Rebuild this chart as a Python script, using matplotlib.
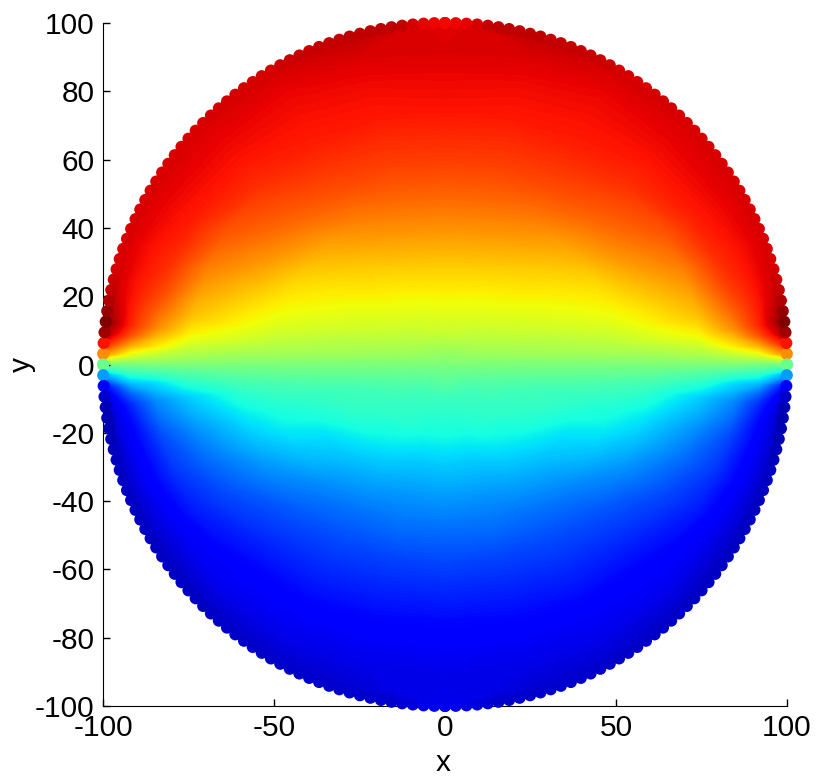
import numpy as np
import matplotlib

matplotlib.use("Agg")
import matplotlib.pyplot as plt

# Values: colour value (0-1 on the jet scale) per ring and ray
ring_radius = [0, 10, 20, 30, 40, 50, 60, 75, 85, 92, 100]
ray_angle = [0, 1.8, 3.6, 5.4, 7.2, 10.8, 14.4, 21.6, 30, 45, 60, 75, 90]

upper_values = [
	[.50, .50, .50, .50, .50, .50, .50, .50, .50, .50, .50, .50, .50],
	[.50, .505, .505, .51, .515, .525, .53, .545, .555, .57, .585, .595, .595],
	[.50, .505, .515, .525, .535, .545, .555, .575, .595, .62, .635, .645, .65],
	[.50, .51, .525, .54, .55, .56, .575, .605, .625, .66, .68, .695, .70],
	[.50, .515, .535, .55, .56, .58, .60, .63, .655, .695, .73, .75, .755],
	[.50, .525, .545, .56, .575, .60, .625, .655, .685, .74, .78, .80, .805],
	[.50, .53, .555, .58, .605, .64, .66, .70, .745, .80, .83, .84, .845],
	[.50, .55, .585, .625, .655, .70, .725, .77, .815, .86, .88, .885, .89],
	[.50, .58, .66, .71, .76, .80, .83, .86, .88, .89, .895, .90, .905],
	[.49, .62, .73, .82, .86, .87, .88, .89, .90, .905, .905, .915, .92],
	[.48, .76, .89, .97, 1.0, .955, .93, .92, .92, .92, .925, .94, .91],
]
lower_values = [
	[.50, .50, .50, .50, .50, .50, .50, .50, .50, .50, .50, .50, .50],
	[.50, .495, .495, .49, .49, .48, .475, .465, .45, .43, .425, .42, .42],
	[.50, .495, .485, .48, .475, .46, .45, .43, .42, .405, .395, .38, .38],
	[.50, .49, .48, .47, .46, .44, .425, .415, .40, .365, .34, .32, .32],
	[.50, .485, .475, .46, .445, .425, .41, .385, .35, .31, .285, .27, .27],
	[.50, .48, .465, .445, .43, .41, .39, .36, .32, .26, .235, .23, .225],
	[.50, .475, .45, .43, .41, .38, .355, .315, .27, .215, .195, .185, .185],
	[.50, .45, .41, .37, .33, .30, .27, .23, .195, .155, .145, .135, .13],
	[.50, .42, .34, .30, .26, .23, .20, .175, .15, .115, .11, .105, .105],
	[.49, .40, .30, .22, .17, .14, .13, .12, .105, .10, .095, .09, .09],
	[.48, .28, .12, .07, .05, .05, .055, .06, .06, .06, .065, .07, .10],
]

# Rim dots, one every 1.8 degrees from the x axis to the pole
rim_step = 1.8
rim_upper = [.48, .76, .89, .97, 1.0, .98, .955, .94, .93, .925, .92, .92,
             .92, .92, .92, .92, .92, .92, .92, .92, .92, .92, .92, .92, .92, .92,
             .925, .925, .925, .925, .925, .925, .925, .925,
             .93, .93, .935, .935, .94, .94, .94, .945,
             .945, .945, .945, .945, .94,
             .925, .91, .905, .90]
rim_lower = [.48, .28, .12, .07, .05, .045, .05, .05, .055, .055, .06, .06,
             .06, .06, .06, .06, .06, .06, .06, .06, .06, .06, .06, .06, .06, .06,
             .065, .065, .065, .065, .065, .065, .065, .065,
             .07, .07, .07, .07, .07, .07, .07, .07,
             .07, .07, .07, .07, .075,
             .08, .09, .095, .10]

x_ticks = [-100, -50, 0, 50, 100]
y_ticks = [-100, -80, -60, -40, -20, 0, 20, 40, 60, 80, 100]

plt.rcParams['font.family'] = ['Liberation Sans', 'DejaVu Sans']
plt.rcParams['axes.unicode_minus'] = False

fig = plt.figure(figsize=(8.2, 7.78), dpi=100)
ax = fig.add_axes([103 / 820, 72 / 778, 684 / 820, 683 / 778])

# Polar mesh: right half from -90 to 90, left half is its mirror image
rays = np.array(ray_angle)
upper = np.array(upper_values)
lower = np.array(lower_values)
half_angle = np.concatenate([-rays[:0:-1], rays])
half_vals = np.column_stack([lower[:, :0:-1], upper])
full_angle = np.radians(np.concatenate([half_angle, 180 - half_angle[-2::-1]]))
full_vals = np.column_stack([half_vals, half_vals[:, -2::-1]])
X = np.outer(ring_radius, np.cos(full_angle))
Y = np.outer(ring_radius, np.sin(full_angle))

ax.contourf(X, Y, full_vals, levels=np.linspace(0, 1, 257), cmap='jet',
            vmin=0, vmax=1, antialiased=False, zorder=1)

# Rim of overlapping dots, they spill over the axes
rim_angle = np.arange(len(rim_upper)) * rim_step
dot_angle = np.radians(np.concatenate([rim_angle, 180 - rim_angle, -rim_angle, 180 + rim_angle]))
dot_vals = np.concatenate([rim_upper, rim_upper, rim_lower, rim_lower])
ax.scatter(100 * np.cos(dot_angle), 100 * np.sin(dot_angle), c=dot_vals, s=76,
           cmap='jet', vmin=0, vmax=1, linewidths=0, clip_on=False, zorder=3)

ax.set_xlim(-100, 100)
ax.set_ylim(-100, 100)
ax.set_xticks(x_ticks)
ax.set_yticks(y_ticks)
ax.spines['top'].set_visible(False)
ax.spines['right'].set_visible(False)
ax.tick_params(direction='in', length=5, width=1, labelsize=21.5, pad=6)
ax.set_xlabel("x", fontsize=21.5, va='center')
ax.set_ylabel("y", fontsize=21.5, va='center')
ax.xaxis.set_label_coords(0.497, -0.083)
ax.yaxis.set_label_coords(-0.118, 0.5)

fig.savefig("out.png", dpi=100)
